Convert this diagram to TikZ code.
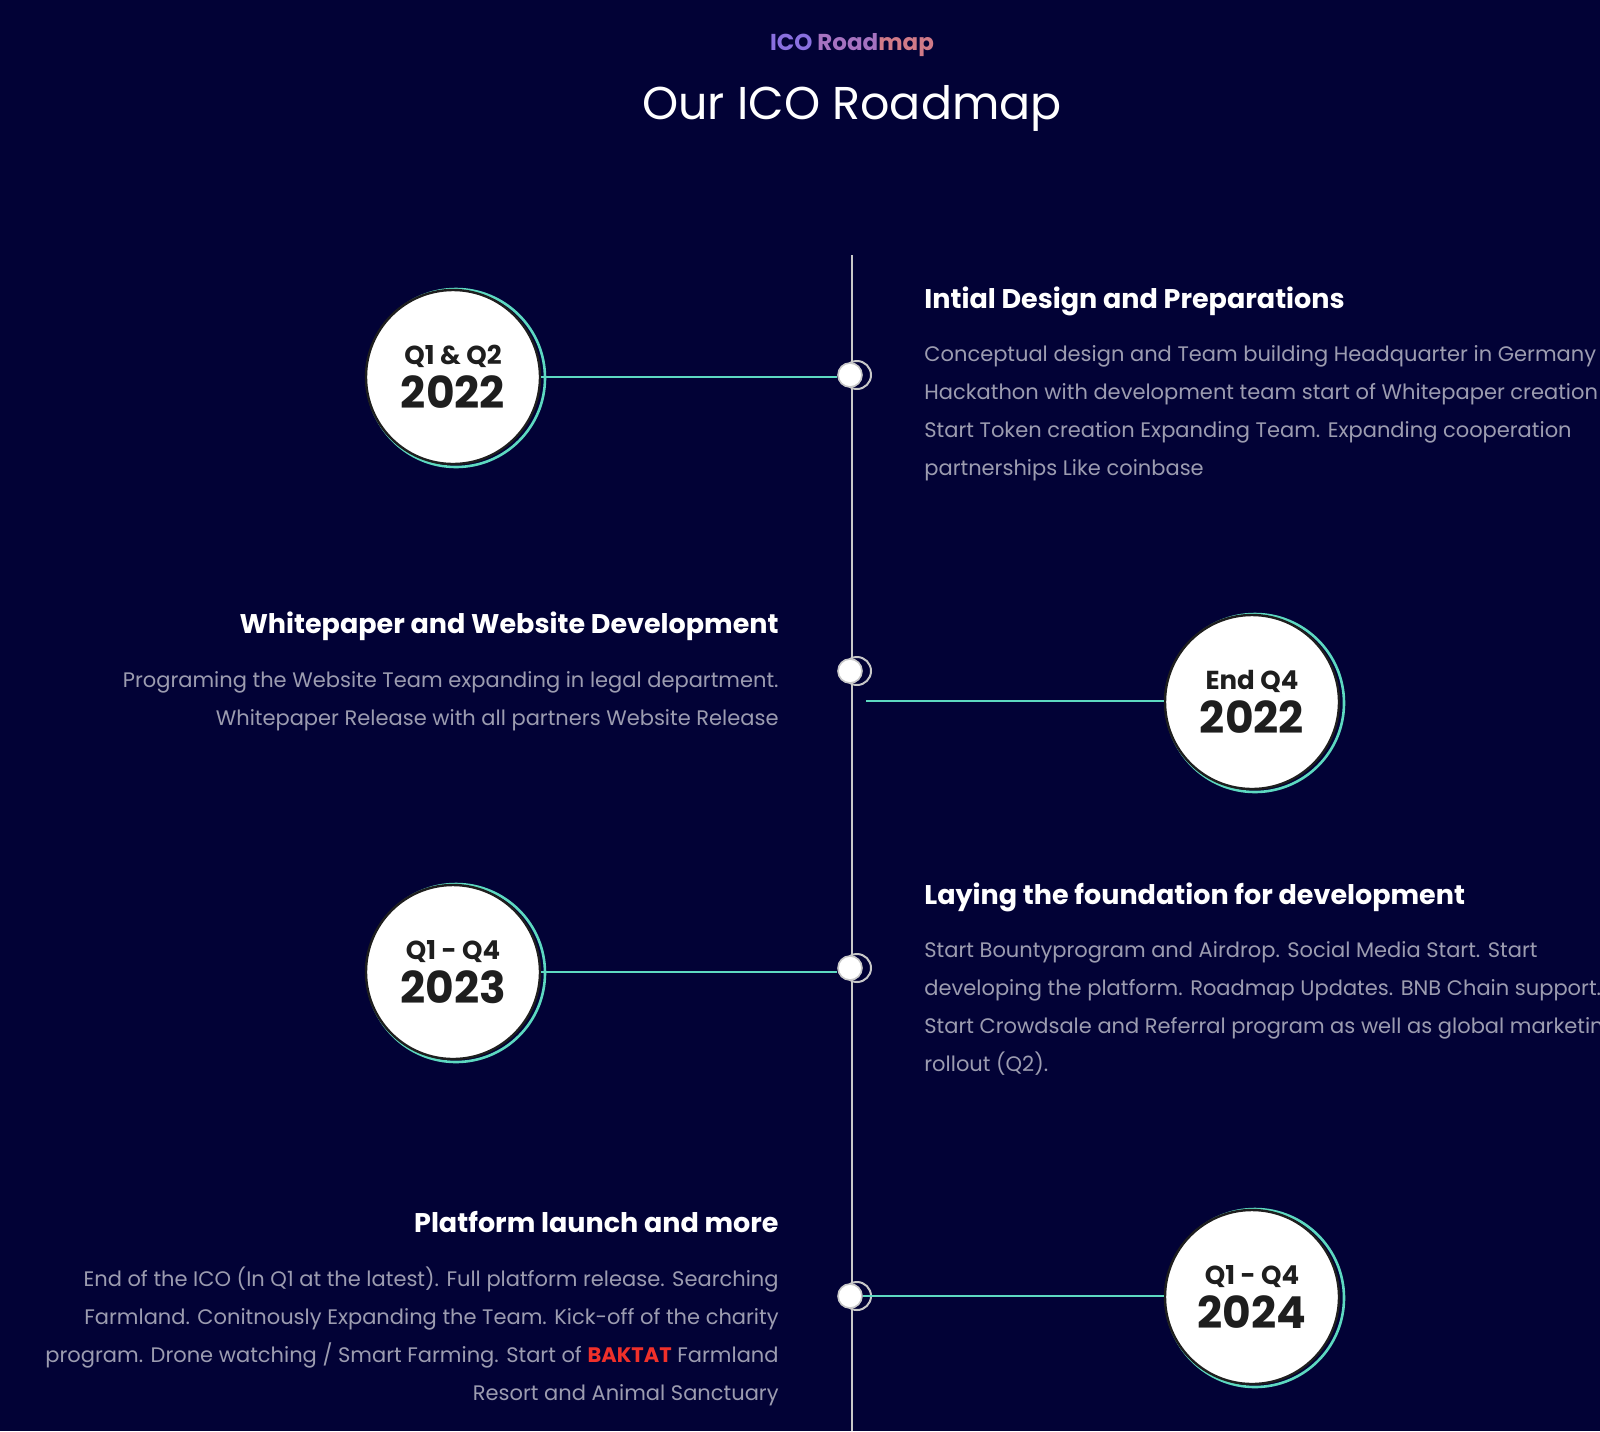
\documentclass[tikz,border=0pt]{standalone}
\usepackage{fontspec}
\setmainfont{Poppins}
\definecolor{bg}{HTML}{020236}
\definecolor{teal}{HTML}{5DD9C1}
\definecolor{gtext}{HTML}{9C9CB0}
\definecolor{linec}{HTML}{C8C8C8}
\definecolor{dark}{HTML}{1E1E1E}
\definecolor{bred}{HTML}{F0302A}
\begin{document}
\begin{tikzpicture}[x=0.5pt,y=-0.5pt,
  body/.style={text=gtext,font=\fontsize{10.5}{19}\selectfont,align=left,inner sep=0pt},
  bodyr/.style={body,align=right},
  head/.style={text=white,font=\fontsize{13.5}{16}\selectfont\bfseries,inner sep=0pt},
  conn/.style={teal,line width=1.3pt},
  year/.style={circle,fill=white,draw=dark,line width=1.2pt,minimum size=87pt,inner sep=0pt,align=center,text=dark}]
\fill[bg] (0,0) rectangle (1600,1431);
\useasboundingbox (0,0) rectangle (1600,1431);
\node (kick) at (852,45) {\fontsize{11.5}{13}\selectfont\bfseries\textcolor[HTML]{8A70E0}{ICO }\textcolor[HTML]{A672C0}{Road}\textcolor[HTML]{D07A88}{map}};
\node[text=white] (title) at (852,108) {\fontsize{23}{26}\selectfont Our ICO Roadmap};
\draw[linec,line width=1pt] (852,255) -- (852,1431);
% circles
\newcommand{\yc}[5]{%
 \draw[teal,line width=1.3pt] (#1+3,#2+1) circle (44.5pt);
 \node[year] (#3) at (#1,#2) {\fontsize{13}{14}\selectfont\bfseries #4\\[3pt]\fontsize{22}{22}\selectfont\bfseries #5};}
\yc{453}{377}{c1}{Q1 \& Q2}{2022}
\yc{1252}{702}{c2}{End Q4}{2022}
\yc{453}{972}{c3}{Q1 - Q4}{2023}
\yc{1252}{1297}{c4}{Q1 - Q4}{2024}
% dots
\newcommand{\dt}[3]{%
 \draw[linec,line width=1pt] (#1+5,#2) circle (7pt);
 \node[circle,fill=white,draw=linec,line width=0.8pt,minimum size=12pt,inner sep=0pt] (#3) at (#1-2,#2) {};}
\dt{852}{375}{d1}
\dt{852}{671}{d2}
\dt{852}{968}{d3}
\dt{852}{1296}{d4}
\coordinate (e2) at (866,701);
\draw[conn] (c1.east) -- (c1.east -| d1.west);
\draw[conn] (c3.east) -- (c3.east -| d3.west);
\draw[conn] (e2) -- (c2.west|-e2);
\draw[conn] (d4.east) -- (d4.east -| c4.west);
% texts
\node[head,anchor=west] (h1) at (924,301) {Intial Design and Preparations};
\node[body,anchor=north west] (b1) at (924,345) {Conceptual design and Team building Headquarter in Germany\\Hackathon with development team start of Whitepaper creation\\Start Token creation Expanding Team. Expanding cooperation\\partnerships Like coinbase};
\node[head,anchor=east] (h2) at (779,626) {Whitepaper and Website Development};
\node[bodyr,anchor=north east] (b2) at (779,671) {Programing the Website Team expanding in legal department.\\Whitepaper Release with all partners Website Release};
\node[head,anchor=west] (h3) at (924,897) {Laying the foundation for development};
\node[body,anchor=north west] (b3) at (924,941) {Start Bountyprogram and Airdrop. Social Media Start. Start\\developing the platform. Roadmap Updates. BNB Chain support.\\Start Crowdsale and Referral program as well as global marketing\\rollout (Q2).};
\node[head,anchor=east] (h4) at (779,1222) {Platform launch and more};
\node[bodyr,anchor=north east] (b4) at (779,1266) {End of the ICO (In Q1 at the latest). Full platform release. Searching\\Farmland. Conitnously Expanding the Team. Kick-off of the charity\\program. Drone watching / Smart Farming. Start of \textcolor{bred}{\bfseries BAKTAT} Farmland\\Resort and Animal Sanctuary};
\end{tikzpicture}
\end{document}
